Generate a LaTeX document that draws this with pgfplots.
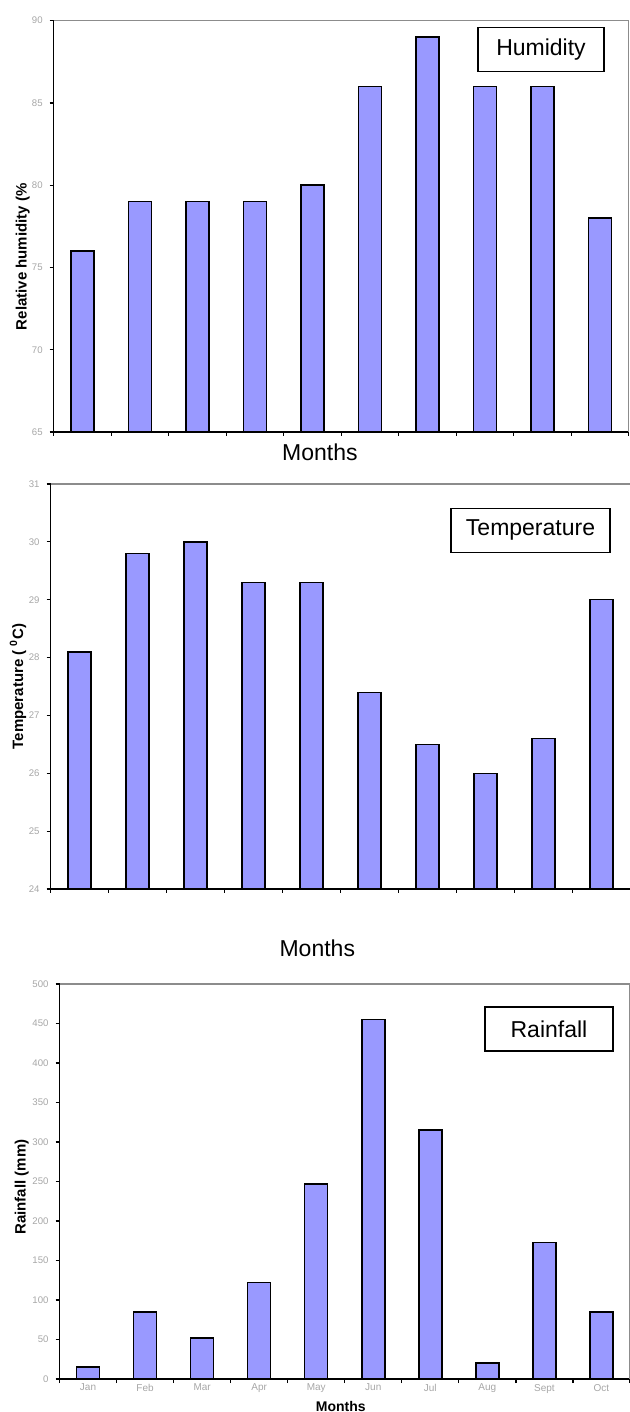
\documentclass[border=0pt]{standalone}
\usepackage{fontspec}
\setmainfont{Liberation Sans}
\usepackage{pgfplots}
\pgfplotsset{compat=1.18}
\definecolor{barblue}{RGB}{153,153,255}
\tikzset{
  boxlabel/.style={draw=black, line width=0.6pt, inner sep=0pt, minimum height=22pt,
    font=\fontsize{11.5}{12}\selectfont},
}
\pgfplotsset{
  chartbase/.style={
    scale only axis, anchor=south west,
    xmin=-0.5, xmax=9.5,
    axis x line*=bottom, axis y line*=left,
    axis line style={line width=0.75pt, black, -},
    tick align=outside,
    xtick={-0.5,0.5,1.5,2.5,3.5,4.5,5.5,6.5,7.5,8.5,9.5},
    xticklabels={},
    major tick length=2pt,
    tick style={black, line width=0.6pt},
    yticklabel style={font=\fontsize{4.8}{5}\selectfont, text=black!35},
    /pgf/number format/assume math mode=true,
    after end axis/.code={
      \draw[black!45, line width=0.75pt] (rel axis cs:0,1) -- (rel axis cs:1,1) -- (rel axis cs:1,0);
    },
  },
  barstyle/.style={ybar, bar width=11.5pt, fill=barblue, draw=black, line width=0.75pt},
}
\begin{document}
\begin{tikzpicture}
\useasboundingbox (0,0) rectangle (315pt,706pt);
% Humidity
\begin{axis}[chartbase,
  at={(26.85pt,490pt)}, width=287.5pt, height=205.65pt,
  ymin=65, ymax=90, ytick={65,70,...,90},
  ylabel={Relative humidity (\%},
  ylabel style={at={(axis description cs:-0.054,0.426)}, anchor=center, font=\fontsize{7.5}{8}\selectfont\bfseries},
  xlabel={Months},
  xlabel style={at={(axis description cs:0.463,0)}, anchor=center, yshift=-10pt, font=\fontsize{11.5}{12}\selectfont},
]
\addplot[barstyle] coordinates {(0,76) (1,79) (2,79) (3,79) (4,80) (5,86) (6,89) (7,86) (8,86) (9,78)};
\node[boxlabel, minimum width=63pt] at (rel axis cs:0.8475,0.929) {Humidity};
\end{axis}
% Temperature
\begin{axis}[chartbase,
  at={(25.25pt,261.5pt)}, width=290pt, height=202.5pt,
  ymin=24, ymax=31, ytick={24,25,...,31},
  ylabel={Temperature ( \textsuperscript{0}C)},
  ylabel style={at={(axis description cs:-0.056,0.5)}, anchor=center, font=\fontsize{7.5}{8}\selectfont\bfseries},
  xlabel={Months},
  xlabel style={at={(axis description cs:0.46,0)}, anchor=center, yshift=-29.5pt, font=\fontsize{11.5}{12}\selectfont},
]
\addplot[barstyle] coordinates {(0,28.1) (1,29.8) (2,30.0) (3,29.3) (4,29.3) (5,27.4) (6,26.5) (7,26.0) (8,26.6) (9,29.0)};
\node[boxlabel, minimum width=79.5pt] at (rel axis cs:0.8276,0.886) {Temperature};
\end{axis}
% Rainfall
\begin{axis}[chartbase,
  at={(29.75pt,16.5pt)}, width=285.25pt, height=197.5pt,
  ymin=0, ymax=500, ytick={0,50,...,500},
  extra x ticks={0,1,2,3,4,5,6,7,8,9},
  extra x tick labels={Jan,Feb,Mar,Apr,May,Jun,Jul,Aug,Sept,Oct},
  extra x tick style={major tick length=0pt, tick label style={font=\fontsize{5}{5}\selectfont, text=black!35, yshift=1pt}},
  ylabel={Rainfall (mm)},
  ylabel style={at={(axis description cs:-0.066,0.486)}, anchor=center, font=\fontsize{7.5}{8}\selectfont\bfseries},
  xlabel={Months},
  xlabel style={at={(axis description cs:0.493,0)}, anchor=center, yshift=-13.5pt, font=\fontsize{7}{7}\selectfont\bfseries},
]
\addplot[barstyle] coordinates {(0,15) (1,85) (2,52) (3,122) (4,247) (5,455) (6,315) (7,20) (8,173) (9,85)};
\node[boxlabel, minimum width=64pt] at (rel axis cs:0.858,0.886) {Rainfall};
\end{axis}
\end{tikzpicture}
\end{document}
